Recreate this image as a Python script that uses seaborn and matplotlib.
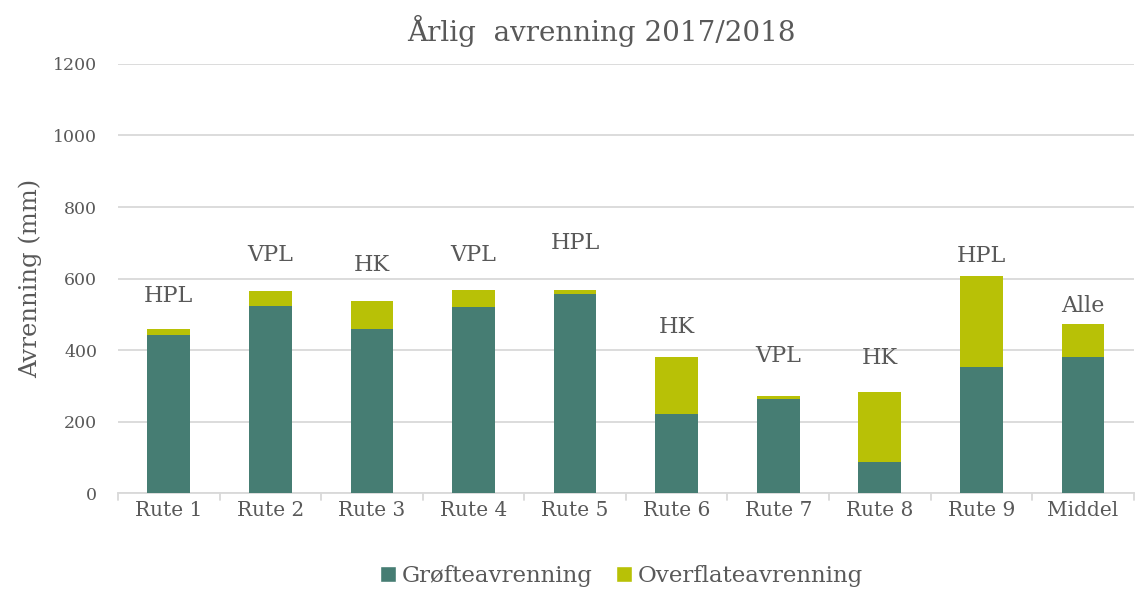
import matplotlib
matplotlib.use("Agg")
import matplotlib.pyplot as plt
import seaborn as sns
import pandas as pd
from matplotlib.patches import Patch

categories = ["Rute 1", "Rute 2", "Rute 3", "Rute 4", "Rute 5",
              "Rute 6", "Rute 7", "Rute 8", "Rute 9", "Middel"]
grofte = [442, 523, 459, 521, 558, 222, 264, 88, 353, 380]
overflate = [16, 42, 78, 47, 9, 158, 8, 194, 255, 92]
bar_labels = ["HPL", "VPL", "HK", "VPL", "HPL", "HK", "VPL", "HK", "HPL", "Alle"]
label_heights = [551, 666, 638, 666, 699, 464, 383, 378, 663, 523]
yticks = [0, 200, 400, 600, 800, 1000, 1200]

GREEN = "#467D73"
YELLOW = "#B8C106"
TEXT = "#595959"
GRID = "#D9D9D9"

sns.set_theme(style="white")
plt.rcParams["font.family"] = ["DejaVu Serif"]

df = pd.DataFrame({
    "Rute": categories,
    "Grøfteavrenning": grofte,
    "Total": [g + o for g, o in zip(grofte, overflate)],
})

fig = plt.figure(figsize=(11.36, 5.92), dpi=100)
ax = fig.add_axes([0.1039, 0.1672, 0.8941, 0.7247])

sns.barplot(data=df, x="Rute", y="Total", color=YELLOW, width=0.42,
            saturation=1, ax=ax, zorder=3, linewidth=0)
sns.barplot(data=df, x="Rute", y="Grøfteavrenning", color=GREEN, width=0.42,
            saturation=1, ax=ax, zorder=4, linewidth=0)

ax.set_ylim(0, 1200)
ax.set_xlim(-0.5, len(categories) - 0.5)
ax.set_yticks(yticks)
ax.set_yticklabels([str(t) for t in yticks], fontsize=12.5, color=TEXT)
ax.tick_params(axis="y", length=0, pad=15)
ax.tick_params(axis="x", length=0, pad=6)
for lbl in ax.get_xticklabels():
    lbl.set_fontsize(14.5)
    lbl.set_color(TEXT)
ax.yaxis.grid(True, color=GRID, linewidth=1.3, zorder=0)
ax.set_axisbelow(True)
for s in ["top", "right", "left"]:
    ax.spines[s].set_visible(False)
ax.spines["bottom"].set_color(GRID)
ax.spines["bottom"].set_linewidth(1.3)

# category separator ticks below axis
for i in range(len(categories) + 1):
    ax.plot([i - 0.5, i - 0.5], [0, -20], color=GRID, lw=1.3, clip_on=False, zorder=1)

ax.set_xlabel("")
ax.set_ylabel("Avrenning (mm)", fontsize=17.5, color=TEXT, labelpad=8)

for i, (txt, h) in enumerate(zip(bar_labels, label_heights)):
    ax.text(i, h, txt, ha="center", va="center", fontsize=16, color=TEXT)

fig.text(0.529, 0.948, "Årlig  avrenning 2017/2018", ha="center", va="center",
         fontsize=20, color=TEXT)

handles = [Patch(facecolor=GREEN, label="Grøfteavrenning"),
           Patch(facecolor=YELLOW, label="Overflateavrenning")]
fig.legend(handles=handles, loc="center", bbox_to_anchor=(0.547, 0.027),
           ncol=2, frameon=False, fontsize=16.5, labelcolor=TEXT,
           handlelength=0.7, handleheight=0.7, handletextpad=0.25, columnspacing=1.0)

fig.savefig("out.png", dpi=100)
